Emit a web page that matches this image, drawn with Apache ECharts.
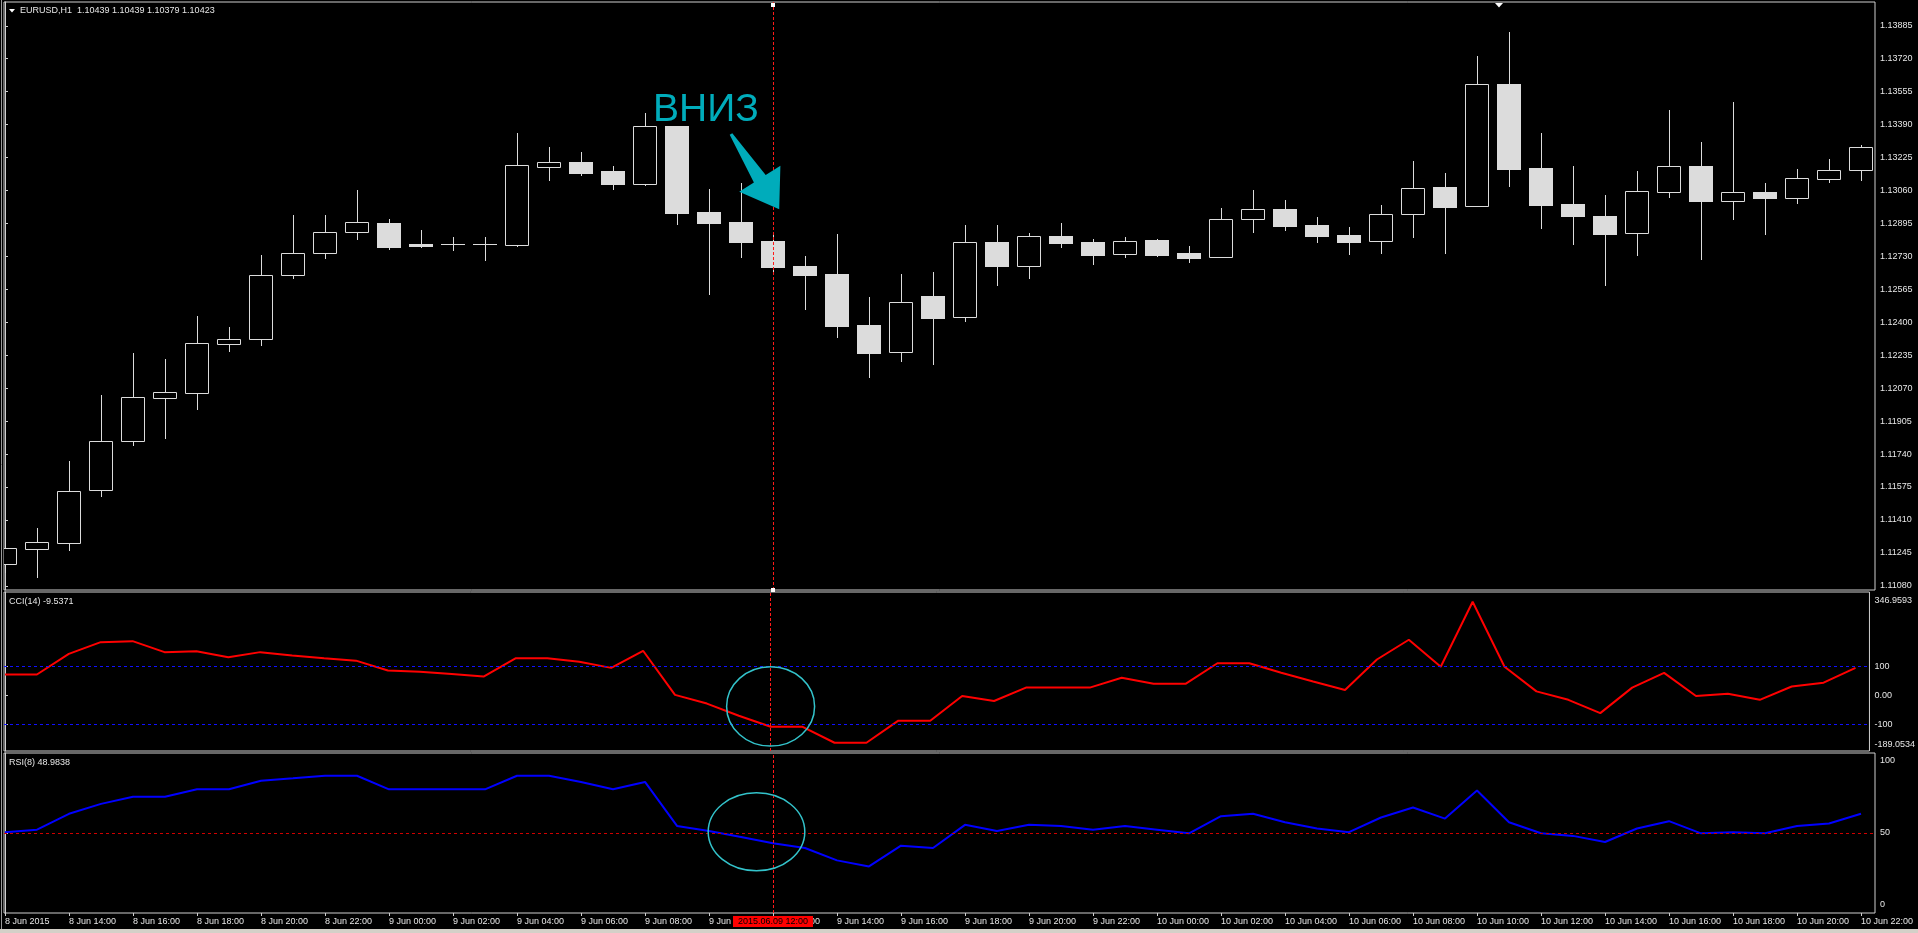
<!DOCTYPE html>
<html><head><meta charset="utf-8">
<script src="https://cdn.jsdelivr.net/npm/echarts@6/dist/echarts.min.js"></script>
<style>html,body{margin:0;padding:0;background:#000;overflow:hidden}#c{width:1918px;height:933px}</style>
</head><body><div id="c"></div>
<script>
// ---------------- data ----------------
const symbolTitle = 'EURUSD,H1  1.10439 1.10439 1.10379 1.10423';
const cciTitle = 'CCI(14) -9.5371';
const rsiTitle = 'RSI(8) 48.9838';
const annotationText = 'ВНИЗ';

const xTickLabels = ['8 Jun 2015','8 Jun 14:00','8 Jun 16:00','8 Jun 18:00','8 Jun 20:00','8 Jun 22:00',
  '9 Jun 00:00','9 Jun 02:00','9 Jun 04:00','9 Jun 06:00','9 Jun 08:00','9 Jun 10:00','9 Jun 12:00',
  '9 Jun 14:00','9 Jun 16:00','9 Jun 18:00','9 Jun 20:00','9 Jun 22:00','10 Jun 00:00','10 Jun 02:00',
  '10 Jun 04:00','10 Jun 06:00','10 Jun 08:00','10 Jun 10:00','10 Jun 12:00','10 Jun 14:00','10 Jun 16:00',
  '10 Jun 18:00','10 Jun 20:00','10 Jun 22:00'];
const xTickIdx = [0,2,4,6,8,10,12,14,16,18,20,22,24,26,28,30,32,34,36,38,40,42,44,46,48,50,52,54,56,58];

const priceTicks = [1.11080,1.11245,1.11410,1.11575,1.11740,1.11905,1.12070,1.12235,1.12400,
  1.12565,1.12730,1.12895,1.13060,1.13225,1.13390,1.13555,1.13720,1.13885];
const priceRange = [1.11059, 1.14004];

const opens = [1.11188,1.11266,1.11296,1.11558,1.11804,1.12022,1.12047,1.12293,1.12314,1.12635,
  1.12745,1.12850,1.12897,1.12792,1.12790,1.12790,1.12788,1.13179,1.13202,1.13157,
  1.13091,1.13383,1.12952,1.12902,1.12807,1.12682,1.12642,1.12387,1.12250,1.12532,
  1.12425,1.12802,1.12680,1.12831,1.12802,1.12740,1.12812,1.12747,1.12725,1.12916,
  1.12966,1.12887,1.12837,1.12805,1.12941,1.13076,1.12984,1.13592,1.13173,1.12992,
  1.12932,1.12846,1.13054,1.13183,1.13009,1.13051,1.13024,1.13119,1.13164];
const closes = [1.11268,1.11298,1.11553,1.11804,1.12024,1.12049,1.12294,1.12314,1.12635,1.12745,
  1.12850,1.12900,1.12779,1.12783,1.12790,1.12791,1.13186,1.13201,1.13147,1.13092,
  1.13381,1.12949,1.12899,1.12804,1.12679,1.12639,1.12383,1.12248,1.12500,1.12423,
  1.12801,1.12684,1.12831,1.12799,1.12739,1.12805,1.12739,1.12724,1.12916,1.12966,
  1.12884,1.12834,1.12804,1.12941,1.13071,1.12979,1.13592,1.13169,1.12989,1.12934,
  1.12844,1.13056,1.13181,1.13009,1.13051,1.13024,1.13121,1.13161,1.13278];
const lows = [1.11148,1.11126,1.11260,1.11530,1.11787,1.11820,1.11966,1.12256,1.12286,1.12623,
  1.12723,1.12819,1.12767,1.12779,1.12762,1.12712,1.12783,1.13114,1.13137,1.13067,
  1.13085,1.12894,1.12543,1.12729,1.12645,1.12468,1.12328,1.12128,1.12208,1.12193,
  1.12408,1.12589,1.12624,1.12779,1.12694,1.12729,1.12734,1.12704,1.12725,1.12854,
  1.12864,1.12804,1.12744,1.12749,1.12829,1.12749,1.12984,1.13084,1.12872,1.12794,
  1.12589,1.12739,1.13029,1.12719,1.12919,1.12844,1.12999,1.13103,1.13113];
const highs = [1.11413,1.11368,1.11705,1.12036,1.12246,1.12216,1.12431,1.12376,1.12737,1.12937,
  1.12937,1.13062,1.12917,1.12862,1.12827,1.12827,1.13348,1.13278,1.13253,1.13182,
  1.13446,1.13383,1.13068,1.13098,1.12840,1.12732,1.12842,1.12527,1.12642,1.12652,
  1.12887,1.12887,1.12847,1.12897,1.12817,1.12827,1.12815,1.12782,1.12972,1.13063,
  1.13013,1.12927,1.12877,1.12987,1.13208,1.13148,1.13734,1.13854,1.13348,1.13183,
  1.13038,1.13158,1.13463,1.13303,1.13503,1.13098,1.13168,1.13218,1.13288];

const cci = [71.3,71.3,142.5,182.8,186.2,148.3,151.7,131.0,148.3,136.8,
  127,119,85,81,73,64,127,127,115,94,
  153,1,-29,-71,-109,-109,-164,-164,-88,-88,
  -3,-20,26,26,26,60,39,39,110,110,
  77,47,18,123,191,98,322,98,13,-16,
  -62,26,77,-3,5,-16,30,43,94];
const cciLevels = [100, -100];
const cciLabelValues = [346.9593, 100, 0, -100, -189.0534];
const cciAxisRange = [-192.5, 355.6];

const rsi = [50.5,52.1,62.0,68.2,72.7,72.7,77.3,77.3,82.7,84.2,
  85.8,85.8,77.3,77.3,77.3,77.3,85.8,85.8,81.9,77.3,
  81.9,54.4,51.3,47.5,43.6,40.6,32.9,29.1,42.1,40.6,
  55.1,51.3,55.1,54.4,52.1,54.4,52.1,49.8,60.5,62.0,
  56.7,52.8,50.5,59.7,65.9,59.0,76.6,56.7,49.8,48.2,
  44.4,52.8,57.4,49.8,50.5,49.8,54.4,55.9,62.0];
const rsiLevel = 50;
const rsiLabelValues = [100, 50, 0];

const crossIdx = 24;
const crossLabel = '2015.06.09 12:00';

// ---------------- styles ----------------
const FONT = '"Liberation Sans", Arial, sans-serif';
const TXT = '#e6e6e6';
const CANDLE = '#dcdcdc';
const BORDER = '#cfcfcf';
const TEAL = '#00acbb';
const XMIN = -0.03125, XMAX = 58.4375;

const chart = echarts.init(document.getElementById('c'), null, {renderer: 'canvas'});

function renderCandle(params, api) {
  const i = api.value(0), o = api.value(1), c = api.value(2), l = api.value(3), h = api.value(4);
  const bw = Math.round(api.size([1, 0])[0] * 0.75);
  const pO = api.coord([i, o]), pC = api.coord([i, c]), pL = api.coord([i, l]), pH = api.coord([i, h]);
  const x = Math.round(pO[0]);
  const left = x - bw / 2;
  const yTop = Math.round(Math.min(pO[1], pC[1])), yBot = Math.round(Math.max(pO[1], pC[1]));
  const yH = Math.round(pH[1]), yL = Math.round(pL[1]);
  const bull = c > o;
  const ch = [];
  ch.push({type: 'line', shape: {x1: x + 0.5, y1: yH, x2: x + 0.5, y2: yTop}, style: {stroke: CANDLE, lineWidth: 1}});
  ch.push({type: 'line', shape: {x1: x + 0.5, y1: yBot, x2: x + 0.5, y2: yL + 1}, style: {stroke: CANDLE, lineWidth: 1}});
  if (yBot - yTop < 1) {
    ch.push({type: 'line', shape: {x1: left, y1: yTop + 0.5, x2: left + bw, y2: yTop + 0.5}, style: {stroke: CANDLE, lineWidth: 1}});
  } else if (bull) {
    ch.push({type: 'rect', shape: {x: left + 0.5, y: yTop + 0.5, width: bw - 1, height: yBot - yTop}, style: {fill: '#000', stroke: CANDLE, lineWidth: 1}});
  } else {
    ch.push({type: 'rect', shape: {x: left, y: yTop, width: bw, height: yBot - yTop + 1}, style: {fill: CANDLE}});
  }
  const cs = params.coordSys;
  return {type: 'group', children: ch,
    clipPath: {type: 'rect', shape: {x: cs.x, y: cs.y, width: cs.width, height: cs.height}}};
}

const crossLine = {xAxis: crossIdx, lineStyle: {color: '#ff1a1a', type: [3, 2], width: 1}};
const mlBase = {silent: true, symbol: ['none', 'none'], label: {show: false}, animation: false};

function sideLabel(fmtMap, topPad, botPad, maxV, minV) {
  return {
    show: true, customValues: null, margin: 5, color: TXT, fontSize: 9, fontFamily: FONT,
    formatter: v => {
      const s = fmtMap(v);
      if (v === maxV) return '{t|' + s + '}';
      if (v === minV) return '{b|' + s + '}';
      return s;
    },
    rich: {
      t: {padding: [topPad, 0, 0, 0], color: TXT, fontSize: 9, fontFamily: FONT},
      b: {padding: [0, 0, botPad, 0], color: TXT, fontSize: 9, fontFamily: FONT}
    }
  };
}

const cciLbl = sideLabel(v => v === 0 ? '0.00' : String(v), 12, 10, cciLabelValues[0], cciLabelValues[cciLabelValues.length - 1]);
cciLbl.customValues = cciLabelValues;
const rsiLbl = sideLabel(v => String(v), 15, 16, 100, 0);
rsiLbl.customValues = rsiLabelValues;

const gridBase = {left: 4, width: 1871, show: true, borderColor: BORDER, borderWidth: 1, backgroundColor: '#000'};
const hiddenX = (g) => ({type: 'value', gridIndex: g, min: XMIN, max: XMAX, axisLine: {show: false}, axisTick: {show: false}, axisLabel: {show: false}, splitLine: {show: false}});

const option = {
  backgroundColor: '#000',
  animation: false,
  textStyle: {fontFamily: FONT},
  grid: [
    Object.assign({top: 2, height: 588}, gridBase),
    Object.assign({top: 592, height: 159}, gridBase),
    Object.assign({top: 753, height: 160}, gridBase)
  ],
  xAxis: [
    hiddenX(0), hiddenX(1),
    {type: 'value', gridIndex: 2, min: XMIN, max: XMAX,
      axisLine: {show: false}, splitLine: {show: false},
      axisTick: {show: true, customValues: xTickIdx, length: 3, lineStyle: {color: BORDER}},
      axisLabel: {show: true, customValues: xTickIdx, align: 'left', margin: 4, color: TXT, fontSize: 9, fontFamily: FONT,
        formatter: v => xTickLabels[Math.round(v / 2)]}}
  ],
  yAxis: [
    {type: 'value', gridIndex: 0, position: 'right', min: priceRange[0], max: priceRange[1], scale: true,
      axisLine: {show: true, lineStyle: {color: BORDER}}, splitLine: {show: false},
      axisTick: {show: true, customValues: priceTicks, length: 3, lineStyle: {color: BORDER}},
      axisLabel: {show: true, customValues: priceTicks, margin: 5, color: TXT, fontSize: 9, fontFamily: FONT,
        formatter: v => v.toFixed(5)}},
    {type: 'value', gridIndex: 1, position: 'right', min: cciAxisRange[0], max: cciAxisRange[1],
      axisLine: {show: true, lineStyle: {color: BORDER}}, splitLine: {show: false},
      axisTick: {show: true, customValues: [100, 0, -100], length: 3, lineStyle: {color: BORDER}},
      axisLabel: cciLbl},
    {type: 'value', gridIndex: 2, position: 'right', min: 0, max: 100,
      axisLine: {show: true, lineStyle: {color: BORDER}}, splitLine: {show: false},
      axisTick: {show: true, customValues: [50], length: 3, lineStyle: {color: BORDER}},
      axisLabel: rsiLbl}
  ],
  series: [
    {type: 'custom', name: 'EURUSD', xAxisIndex: 0, yAxisIndex: 0, clip: true,
      data: opens.map((o, i) => [i, o, closes[i], lows[i], highs[i]]),
      encode: {x: 0, y: [1, 2, 3, 4]},
      renderItem: renderCandle, z: 2},
    {type: 'line', name: 'cross', xAxisIndex: 0, yAxisIndex: 0, silent: true, symbol: 'none',
      data: closes.map((c, i) => [i, c]), lineStyle: {opacity: 0}, z: 3,
      markLine: Object.assign({data: [crossLine]}, mlBase)},
    {type: 'line', name: 'CCI', xAxisIndex: 1, yAxisIndex: 1, symbol: 'none', silent: true,
      data: cci.map((v, i) => [i, v]), lineStyle: {color: '#ff0000', width: 2}, z: 3,
      markLine: Object.assign({data: [crossLine].concat(cciLevels.map(v => ({yAxis: v, lineStyle: {color: '#1010ff', type: [3, 3], width: 1}})))}, mlBase)},
    {type: 'line', name: 'RSI', xAxisIndex: 2, yAxisIndex: 2, symbol: 'none', silent: true,
      data: rsi.map((v, i) => [i, v]), lineStyle: {color: '#0000ff', width: 2}, z: 3,
      markLine: Object.assign({data: [crossLine, {yAxis: rsiLevel, lineStyle: {color: '#d00000', type: [3, 3], width: 1}}]}, mlBase)}
  ]
};
chart.setOption(option);

// annotations
const cx = Math.round(chart.convertToPixel({xAxisIndex: 2}, crossIdx));
chart.setOption({
  graphic: [
    {type: 'rect', shape: {x: 0, y: 929, width: 1918, height: 4}, style: {fill: '#d4d0c8'}, z: 50, silent: true},
    {type: 'line', shape: {x1: 1.5, y1: 0, x2: 1.5, y2: 929}, style: {stroke: '#9a9a9a', lineWidth: 1}, z: 50, silent: true},
    {type: 'polygon', shape: {points: [[9, 9], [15, 9], [12, 12.5]]}, style: {fill: '#ffffff'}, z: 50},
    {type: 'text', x: 20, y: 11, style: {text: symbolTitle, fill: TXT, font: '9px ' + FONT, verticalAlign: 'middle'}, z: 50},
    {type: 'text', x: 9, y: 602, style: {text: cciTitle, fill: TXT, font: '9px ' + FONT, verticalAlign: 'middle'}, z: 50},
    {type: 'text', x: 9, y: 763, style: {text: rsiTitle, fill: TXT, font: '9px ' + FONT, verticalAlign: 'middle'}, z: 50},
    {type: 'polygon', shape: {points: [[1495, 3], [1503, 3], [1499, 7.5]]}, style: {fill: '#ffffff'}, z: 50},
    {type: 'text', x: 653, y: 110, style: {text: annotationText, fill: TEAL, font: '39px ' + FONT, verticalAlign: 'middle'}, z: 60},
    {type: 'polygon', shape: {points: [[729.7, 134.8], [732.3, 133.2], [765.7, 174.9], [780.4, 165.7], [779.2, 209.3], [739.2, 191.7], [753.9, 182.5]]},
      style: {fill: TEAL}, z: 60},
    {type: 'ellipse', shape: {cx: 770.6, cy: 706.4, rx: 44, ry: 39.7}, style: {fill: 'none', stroke: '#33c3cb', lineWidth: 1.5}, z: 60},
    {type: 'ellipse', shape: {cx: 756.5, cy: 831.8, rx: 48.3, ry: 39}, style: {fill: 'none', stroke: '#33c3cb', lineWidth: 1.5}, z: 60},
    {type: 'rect', shape: {x: cx - 2, y: 3, width: 4, height: 4}, style: {fill: '#ffffff'}, z: 60},
    {type: 'rect', shape: {x: cx - 2, y: 588, width: 4, height: 4}, style: {fill: '#ffffff'}, z: 60},
    {type: 'rect', shape: {x: cx - 40, y: 916, width: 80, height: 11}, style: {fill: '#ff0000'}, z: 70},
    {type: 'text', x: cx, y: 921.5, style: {text: crossLabel, fill: '#000000', font: '9px ' + FONT, align: 'center', verticalAlign: 'middle'}, z: 71}
  ]
});
</script>
</body></html>
